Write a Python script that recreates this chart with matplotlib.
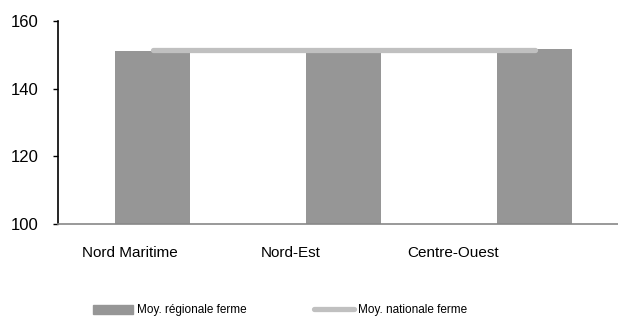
import matplotlib
matplotlib.use("Agg")
import matplotlib.pyplot as plt
import matplotlib.transforms as mtransforms
from matplotlib.patches import Patch
from matplotlib.lines import Line2D

regions = ["Nord Maritime", "Nord-Est", "Centre-Ouest"]
regional_avg = [151.0, 150.7, 151.6]
national_avg = 151.4
yticks = [100, 120, 140, 160]

bar_color = "#969696"
line_color = "#c0c0c0"

plt.rcParams["font.family"] = ["Liberation Sans", "DejaVu Sans"]

fig = plt.figure(figsize=(6.18, 3.18), dpi=100)
ax = fig.add_axes([58 / 618, 94 / 318, 560 / 618, 203 / 318])

x = list(range(len(regions)))
ax.bar(x, regional_avg, width=0.393, color=bar_color, zorder=2)
ax.plot([x[0], x[-1]], [national_avg, national_avg], color=line_color,
        lw=3.8, solid_capstyle="round", zorder=3)

ax.set_ylim(100, 160)
ax.set_xlim(-0.495, 2.437)
ax.set_yticks(yticks)
ax.set_yticklabels([str(v) for v in yticks], fontsize=12)
ax.tick_params(axis="y", direction="out", length=3.5, width=1, pad=10.5)
ax.set_xticks(x)
ax.set_xticklabels(regions, fontsize=11)
ax.tick_params(axis="x", length=0, pad=16)

# the category labels sit left of the bar centres in the original render
shifts = [-23, -53, -81]
for lab, dx in zip(ax.get_xticklabels(), shifts):
    lab.set_transform(lab.get_transform() + mtransforms.ScaledTranslation(dx / 100, 0, fig.dpi_scale_trans))

for s in ["top", "right"]:
    ax.spines[s].set_visible(False)
ax.spines["left"].set_color("black")
ax.spines["left"].set_linewidth(1.2)
ax.spines["bottom"].set_color("#888888")
ax.spines["bottom"].set_linewidth(1.2)

handles = [Patch(color=bar_color),
           Line2D([0], [0], color=line_color, lw=3.8, solid_capstyle="round")]
fig.legend(handles, ["Moy. régionale ferme", "Moy. nationale ferme"],
           loc="center left", bbox_to_anchor=(93 / 618, 7.5 / 318), ncol=2,
           frameon=False, fontsize=8.5, borderpad=0, borderaxespad=0,
           handlelength=3.4, handletextpad=0.35, columnspacing=5.7)

fig.savefig("out.png", dpi=100)
